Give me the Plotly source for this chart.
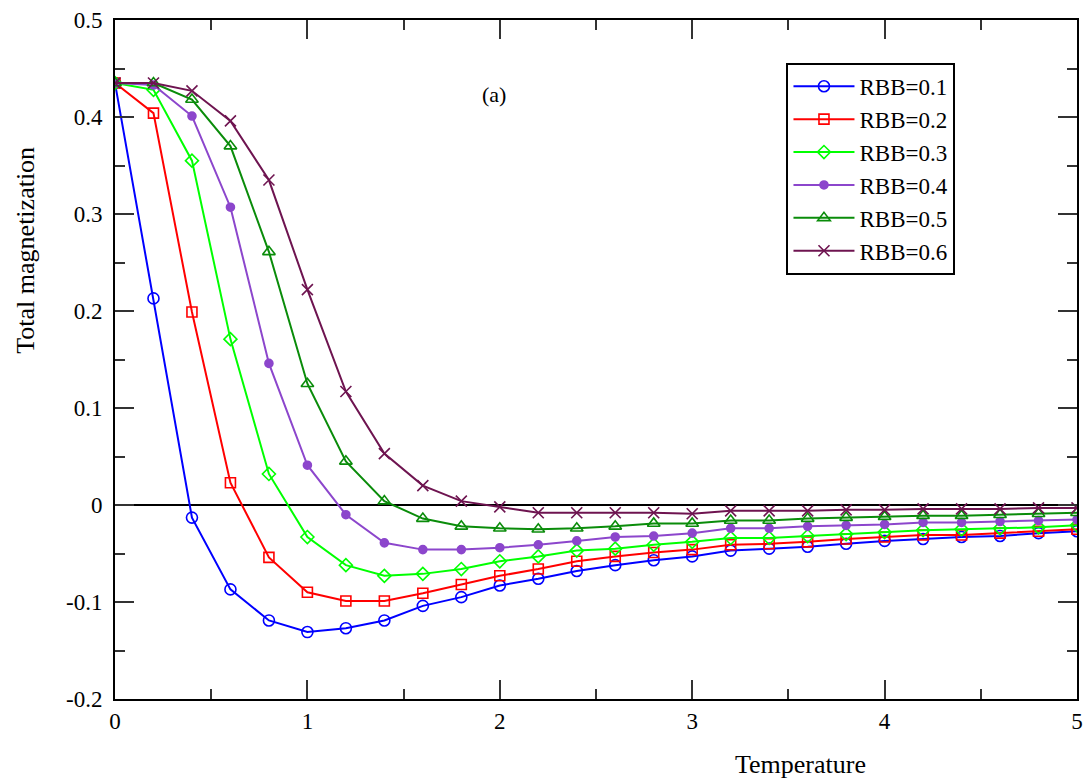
import plotly.graph_objects as go

# Temperature grid
temperature = [0.0, 0.2, 0.4, 0.6, 0.8, 1.0, 1.2, 1.4, 1.6, 1.8, 2.0, 2.2, 2.4,
               2.6, 2.8, 3.0, 3.2, 3.4, 3.6, 3.8, 4.0, 4.2, 4.4, 4.6, 4.8, 5.0]

# Total magnetization for each RBB value
m_rbb01 = [0.435, 0.213, -0.013, -0.087, -0.119, -0.131, -0.127, -0.119, -0.104, -0.095,
           -0.083, -0.076, -0.068, -0.062, -0.057, -0.053, -0.047, -0.045, -0.043, -0.040,
           -0.037, -0.035, -0.033, -0.032, -0.029, -0.027]
m_rbb02 = [0.435, 0.404, 0.199, 0.023, -0.054, -0.090, -0.099, -0.099, -0.091, -0.082,
           -0.073, -0.066, -0.058, -0.053, -0.049, -0.046, -0.041, -0.040, -0.038, -0.035,
           -0.033, -0.031, -0.031, -0.029, -0.027, -0.025]
m_rbb03 = [0.435, 0.428, 0.355, 0.171, 0.032, -0.033, -0.062, -0.073, -0.071, -0.066,
           -0.058, -0.053, -0.047, -0.045, -0.041, -0.038, -0.034, -0.034, -0.032, -0.030,
           -0.028, -0.026, -0.025, -0.024, -0.023, -0.021]
m_rbb04 = [0.435, 0.433, 0.401, 0.307, 0.146, 0.041, -0.010, -0.039, -0.046, -0.046,
           -0.044, -0.041, -0.037, -0.033, -0.032, -0.029, -0.024, -0.024, -0.022, -0.021,
           -0.020, -0.018, -0.018, -0.017, -0.016, -0.015]
m_rbb05 = [0.435, 0.435, 0.418, 0.370, 0.261, 0.125, 0.045, 0.004, -0.014, -0.022,
           -0.024, -0.025, -0.024, -0.022, -0.019, -0.019, -0.016, -0.016, -0.014, -0.013,
           -0.012, -0.011, -0.011, -0.010, -0.009, -0.008]
m_rbb06 = [0.435, 0.435, 0.427, 0.396, 0.335, 0.222, 0.117, 0.053, 0.020, 0.004,
           -0.002, -0.008, -0.008, -0.008, -0.008, -0.009, -0.006, -0.006, -0.006, -0.005,
           -0.005, -0.004, -0.004, -0.004, -0.003, -0.003]

series_names = ["RBB=0.1", "RBB=0.2", "RBB=0.3", "RBB=0.4", "RBB=0.5", "RBB=0.6"]
series_values = [m_rbb01, m_rbb02, m_rbb03, m_rbb04, m_rbb05, m_rbb06]
series_colors = ["#0000ff", "#ff0000", "#00ff00", "#8c46cc", "#0a8c0a", "#6e1450"]
series_symbols = ["circle-open", "square-open", "diamond-open", "circle",
                  "triangle-up-open", "x-thin-open"]
series_sizes = [11, 10, 10, 8, 11, 11]

x_tick_vals = [0, 1, 2, 3, 4, 5]
x_tick_text = ["0", "1", "2", "3", "4", "5"]
y_tick_vals = [-0.2, -0.1, 0, 0.1, 0.2, 0.3, 0.4, 0.5]
y_tick_text = ["-0.2", "-0.1", "0", "0.1", "0.2", "0.3", "0.4", "0.5"]

SERIF = "Liberation Serif"

fig = go.Figure()
for name, vals, col, sym, sz in zip(series_names, series_values, series_colors,
                                    series_symbols, series_sizes):
    fig.add_trace(go.Scatter(
        x=temperature, y=vals, name=name, mode="lines+markers",
        line=dict(color=col, width=2),
        marker=dict(symbol=sym, size=sz, color=col, line=dict(color=col, width=1.6)),
    ))

axis_common = dict(
    showline=True, linecolor="black", linewidth=2, mirror="ticks",
    ticks="inside", ticklen=19, tickwidth=1.5, tickcolor="#333",
    showgrid=False,
    tickfont=dict(family=SERIF, size=23, color="black"),
)

fig.update_xaxes(
    range=[0, 5], tickvals=x_tick_vals, ticktext=x_tick_text,
    minor=dict(ticks="inside", ticklen=10, tickwidth=1.5, tickcolor="#333", dtick=0.5,
               showgrid=False),
    zeroline=False, **axis_common,
)
fig.update_yaxes(
    range=[-0.2, 0.5], tickvals=y_tick_vals, ticktext=y_tick_text,
    minor=dict(ticks="inside", ticklen=10, tickwidth=1.5, tickcolor="#333", dtick=0.05,
               tick0=0, showgrid=False),
    zeroline=True, zerolinecolor="black", zerolinewidth=2,
    ticklabelstandoff=6,
    **axis_common,
)

fig.add_annotation(x=1.97, y=0.423, xref="x", yref="y", text="(a)", showarrow=False,
                   font=dict(family=SERIF, size=22, color="black"))
fig.add_annotation(x=0.713, y=-0.097, xref="paper", yref="paper", text="Temperature",
                   xanchor="center", yanchor="middle", showarrow=False,
                   font=dict(family=SERIF, size=26, color="black"))
fig.add_annotation(x=-0.093, y=0.661, xref="paper", yref="paper",
                   text="Total magnetization", textangle=-90, showarrow=False,
                   xanchor="center", yanchor="middle",
                   font=dict(family=SERIF, size=26, color="black"))

fig.update_layout(
    width=1089, height=781,
    margin=dict(l=115, r=6, t=20, b=82),
    paper_bgcolor="white", plot_bgcolor="white",
    font=dict(family=SERIF, size=23, color="black"),
    showlegend=True,
    legend=dict(
        x=0.698, y=0.937, xanchor="left", yanchor="top",
        bgcolor="white", bordercolor="black", borderwidth=2,
        font=dict(family=SERIF, size=23, color="black"),
        itemwidth=61, tracegroupgap=0,
    ),
)

fig.write_html("out.html")
